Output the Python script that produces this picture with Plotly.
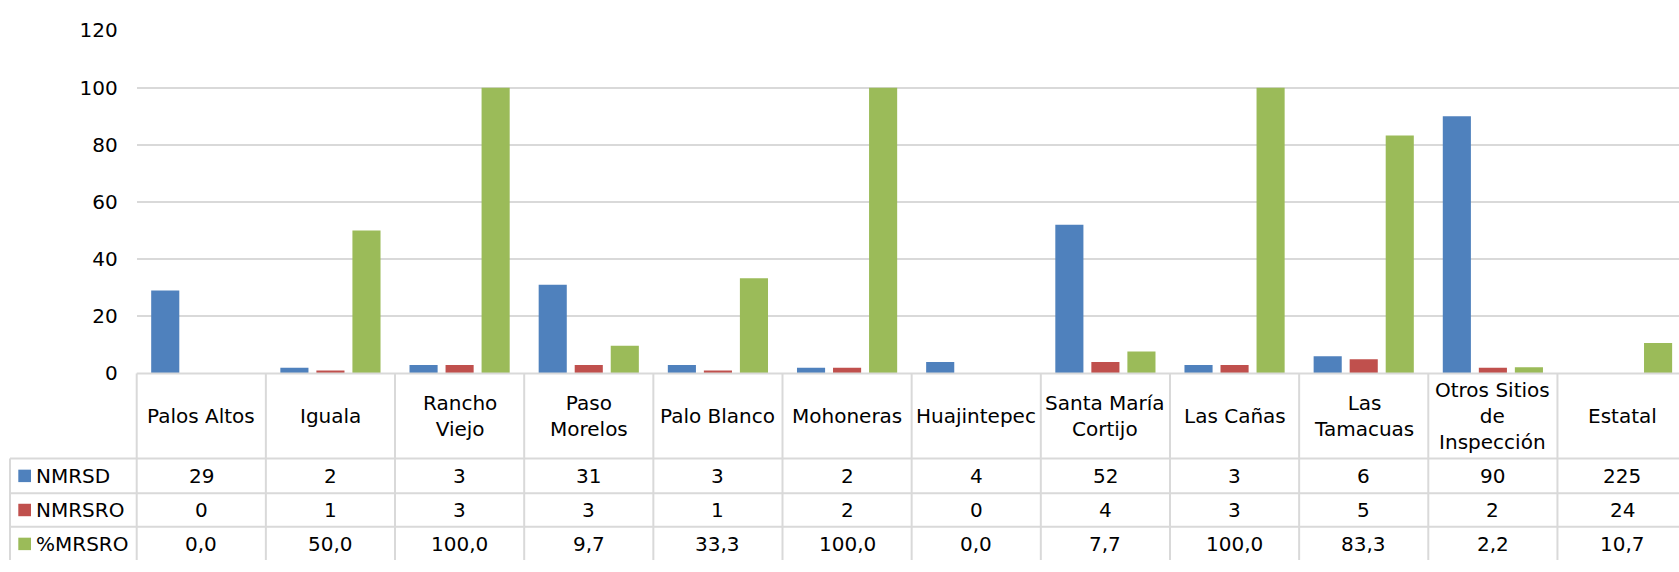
import plotly.graph_objects as go

categories = ["Palos Altos", "Iguala", "Rancho<br>Viejo", "Paso<br>Morelos", "Palo Blanco",
              "Mohoneras", "Huajintepec", "Santa María<br>Cortijo", "Las Cañas",
              "Las<br>Tamacuas", "Otros Sitios<br>de<br>Inspección", "Estatal"]
series_names = ["NMRSD", "NMRSRO", "%MRSRO"]
nmrsd = [29, 2, 3, 31, 3, 2, 4, 52, 3, 6, 90, 225]
nmrsro = [0, 1, 3, 3, 1, 2, 0, 4, 3, 5, 2, 24]
pct_mrsro = [0.0, 50.0, 100.0, 9.7, 33.3, 100.0, 0.0, 7.7, 100.0, 83.3, 2.2, 10.7]
# the Estatal totals appear only in the table, not as bars
nmrsd_bars = nmrsd[:-1] + [None]
nmrsro_bars = nmrsro[:-1] + [None]
y_ticks = [0, 20, 40, 60, 80, 100, 120]

colors = ["#4F81BD", "#C0504D", "#9BBB59"]
W, H = 1679, 572
FONT = "DejaVu Sans"
FS = 20
GRID = "#d9d9d9"

def py(p):  # pixel y -> paper y
    return 1 - p / H

def px(p):
    return p / W

x_idx = list(range(len(categories)))
fig = go.Figure()
for name, vals, c in zip(series_names, [nmrsd_bars, nmrsro_bars, pct_mrsro], colors):
    fig.add_trace(go.Bar(x=x_idx, y=vals, name=name, marker=dict(color=c, line=dict(width=0))))

x0_px = 136.7
y_top_px, y_zero_px = 19.3, 377.3
col_w = 129.16
plot_w = W - x0_px
x_hi = -0.5 + plot_w / col_w

fig.update_layout(
    width=W, height=H,
    margin=dict(l=0, r=0, t=0, b=0),
    paper_bgcolor="white", plot_bgcolor="white",
    font=dict(family=FONT, size=FS, color="#000000"),
    showlegend=False,
    barmode="group", bargap=0.163, bargroupgap=0.22,
    xaxis=dict(domain=[px(x0_px), 1], range=[-0.5, x_hi], showticklabels=False,
               showgrid=False, zeroline=False, showline=False, fixedrange=True),
    yaxis=dict(domain=[py(y_zero_px), py(y_top_px)], range=[0, 120], tickvals=y_ticks,
               showgrid=True, gridcolor=GRID, gridwidth=1.5, zeroline=False,
               ticks="", ticklabelstandoff=18, tickfont=dict(size=FS, family=FONT),
               fixedrange=True),
)

shapes = []
row_lines = [466, 502.3, 537.3]
# table top (axis line)
shapes.append(dict(type="line", xref="paper", yref="paper", x0=px(x0_px), x1=1,
                   y0=py(y_zero_px), y1=py(y_zero_px), line=dict(color=GRID, width=2)))
# horizontal row lines
for r in row_lines:
    shapes.append(dict(type="line", xref="paper", yref="paper", x0=px(10), x1=1,
                       y0=py(r), y1=py(r), line=dict(color=GRID, width=2)))
# left border of legend column
shapes.append(dict(type="line", xref="paper", yref="paper", x0=px(10), x1=px(10),
                   y0=py(466), y1=0, line=dict(color=GRID, width=2)))
# left border of table
shapes.append(dict(type="line", xref="paper", yref="paper", x0=px(x0_px), x1=px(x0_px),
                   y0=py(y_zero_px), y1=0, line=dict(color=GRID, width=2)))
# column separators
for k in range(len(categories)):
    shapes.append(dict(type="line", xref="x", yref="paper", x0=k + 0.5, x1=k + 0.5,
                       y0=py(y_zero_px), y1=0, line=dict(color=GRID, width=2)))
# legend keys
row_centers = [484.2, 519.8, 555.2]
for c, rc in zip(colors, row_centers):
    shapes.append(dict(type="rect", xref="paper", yref="paper", x0=px(18.3), x1=px(31),
                       y0=py(rc + 6.5), y1=py(rc - 6.5), fillcolor=c, line=dict(width=0)))
fig.update_layout(shapes=shapes)

annotations = []
header_c = (y_zero_px + 466) / 2
for k, lab in enumerate(categories):
    annotations.append(dict(x=k, y=py(header_c), xref="x", yref="paper", text=lab,
                            showarrow=False, align="center", xanchor="center", yanchor="middle",
                            font=dict(size=FS, family=FONT)))

def fmt_int(v):
    return str(v)

def fmt_pct(v):
    return f"{v:.1f}".replace(".", ",")

rows = [[fmt_int(v) for v in nmrsd], [fmt_int(v) for v in nmrsro], [fmt_pct(v) for v in pct_mrsro]]
for name, vals, rc in zip(series_names, rows, row_centers):
    annotations.append(dict(x=px(34), y=py(rc), xref="paper", yref="paper", text=name,
                            showarrow=False, xanchor="left", yanchor="middle",
                            font=dict(size=FS, family=FONT)))
    for k, t in enumerate(vals):
        annotations.append(dict(x=k, y=py(rc), xref="x", yref="paper", text=t,
                                showarrow=False, xanchor="center", yanchor="middle",
                                font=dict(size=FS, family=FONT)))
fig.update_layout(annotations=annotations)

fig.write_html("out.html", config={"displayModeBar": False},
               post_script="document.body.style.margin='0';document.body.style.overflow='hidden';")
